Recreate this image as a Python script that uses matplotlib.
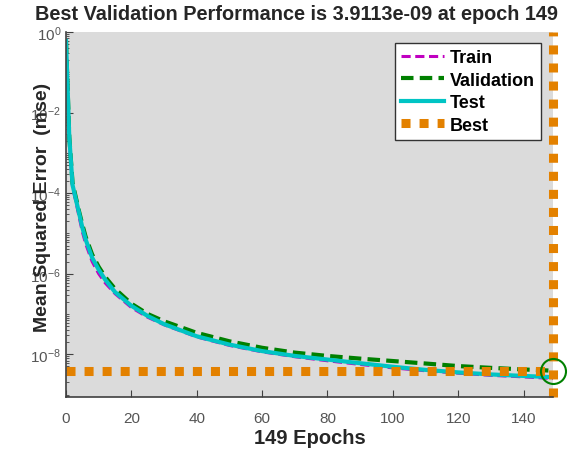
import matplotlib
matplotlib.use("Agg")
import matplotlib.pyplot as plt
from matplotlib.ticker import FixedLocator, LogLocator, NullFormatter

plt.rcParams['font.family'] = ['Liberation Sans', 'DejaVu Sans']

epochs = [0, 1, 2, 3, 4, 5, 6, 8, 10, 12, 15, 20, 25, 30, 40, 50, 60, 70,
          80, 90, 100, 110, 120, 130, 140, 149]
train_mse = [6.0e-1, 2.2e-3, 1.4e-4, 6.3e-5, 2.6e-5, 1.1e-5, 5.6e-6, 2.0e-6,
             1.0e-6, 5.9e-7, 3.2e-7, 1.45e-7, 8.3e-8, 5.4e-8, 2.7e-8, 1.66e-8,
             1.15e-8, 8.7e-9, 6.9e-9, 5.6e-9, 4.6e-9, 3.9e-9, 3.4e-9, 3.0e-9,
             2.75e-9, 2.5e-9]
val_mse = [6.0e-1, 2.5e-3, 1.8e-4, 7.9e-5, 3.5e-5, 1.66e-5, 8.3e-6, 3.0e-6,
           1.48e-6, 8.3e-7, 4.2e-7, 1.8e-7, 1.0e-7, 6.6e-8, 3.4e-8, 2.1e-8,
           1.45e-8, 1.1e-8, 9.1e-9, 7.8e-9, 6.8e-9, 5.9e-9, 5.1e-9, 4.6e-9,
           4.2e-9, 3.9113e-9]
test_mse = [6.0e-1, 2.5e-3, 1.6e-4, 7.1e-5, 3.2e-5, 1.4e-5, 7.1e-6, 2.5e-6,
            1.26e-6, 7.1e-7, 3.5e-7, 1.6e-7, 8.9e-8, 5.6e-8, 2.8e-8, 1.74e-8,
            1.2e-8, 9.1e-9, 7.4e-9, 6.0e-9, 4.9e-9, 4.1e-9, 3.55e-9, 3.16e-9,
            2.9e-9, 2.7e-9]
best_epoch = 149
best_perf = 3.9113e-9
ylims = (8.7e-10, 1.0)

orange = '#E38100'

fig = plt.figure(figsize=(5.88, 4.52), dpi=100)
ax = fig.add_axes([66/588, 1 - 398/452, (553 - 66)/588, (398 - 33)/452])
ax.set_facecolor('#DBDBDB')

ax.plot(epochs, train_mse, color='#C000C0', lw=2.2, ls='--', dashes=(3, 1.5), label='Train')
ax.plot(epochs, val_mse, color='#008000', lw=3, ls='--', dashes=(3, 1.5), label='Validation')
ax.plot(epochs, test_mse, color='#00C4C4', lw=3, label='Test')

# best markers
ax.axhline(best_perf, color=orange, lw=6.5, ls=(0, (1, 1)), dash_capstyle='butt', label='Best')
ax.axvline(best_epoch, color=orange, lw=6.5, ls=(0, (1, 1)), dash_capstyle='butt', clip_on=False)
ax.plot([best_epoch], [best_perf], 'o', ms=18, mfc='none', mec='#008000', mew=1.5, clip_on=False)

ax.set_yscale('log')
ax.set_xlim(0, best_epoch)
ax.set_ylim(*ylims)
ax.set_xticks([0, 20, 40, 60, 80, 100, 120, 140])
ax.yaxis.set_major_locator(FixedLocator([1e0, 1e-2, 1e-4, 1e-6, 1e-8]))
ax.yaxis.set_minor_locator(LogLocator(base=10, subs=range(1, 10), numticks=30))
ax.yaxis.set_minor_formatter(NullFormatter())
ax.tick_params(axis='both', which='both', direction='in', colors='#404040',
               labelcolor='#555555', labelsize=11)
ax.tick_params(which='major', length=5)
ax.tick_params(which='minor', length=2.5)
ax.tick_params(axis='x', pad=10)
for s in ['top', 'right']:
    ax.spines[s].set_visible(False)
for s in ['left', 'bottom']:
    ax.spines[s].set_color('#404040')
    ax.spines[s].set_linewidth(1.2)

ax.set_xlabel('149 Epochs', fontsize=14.5, fontweight='bold', color='#262626', va='center')
ax.xaxis.set_label_coords(0.501, -0.112)
# the reference draws the label right over the tick labels' "10"
ax.set_ylabel('Mean Squared Error  (mse)', fontsize=14, fontweight='bold', color='#262626', va='center')
ax.yaxis.set_label_coords(-0.049, 0.523)
fig.text(297/588, 1 - 15/452, 'Best Validation Performance is 3.9113e-09 at epoch 149',
         ha='center', va='center', fontsize=14.3, fontweight='bold', color='#262626')

leg = ax.legend(loc='upper right', bbox_to_anchor=(541/588, 1 - 44/452),
                bbox_transform=fig.transFigure, borderaxespad=0, fancybox=False,
                framealpha=1, edgecolor='#333333', handlelength=2.4, handletextpad=0.3,
                borderpad=0.35, labelspacing=0.3, prop={'weight': 'bold', 'size': 13})
leg.get_frame().set_linewidth(1.0)

fig.savefig('out.png', dpi=100)
